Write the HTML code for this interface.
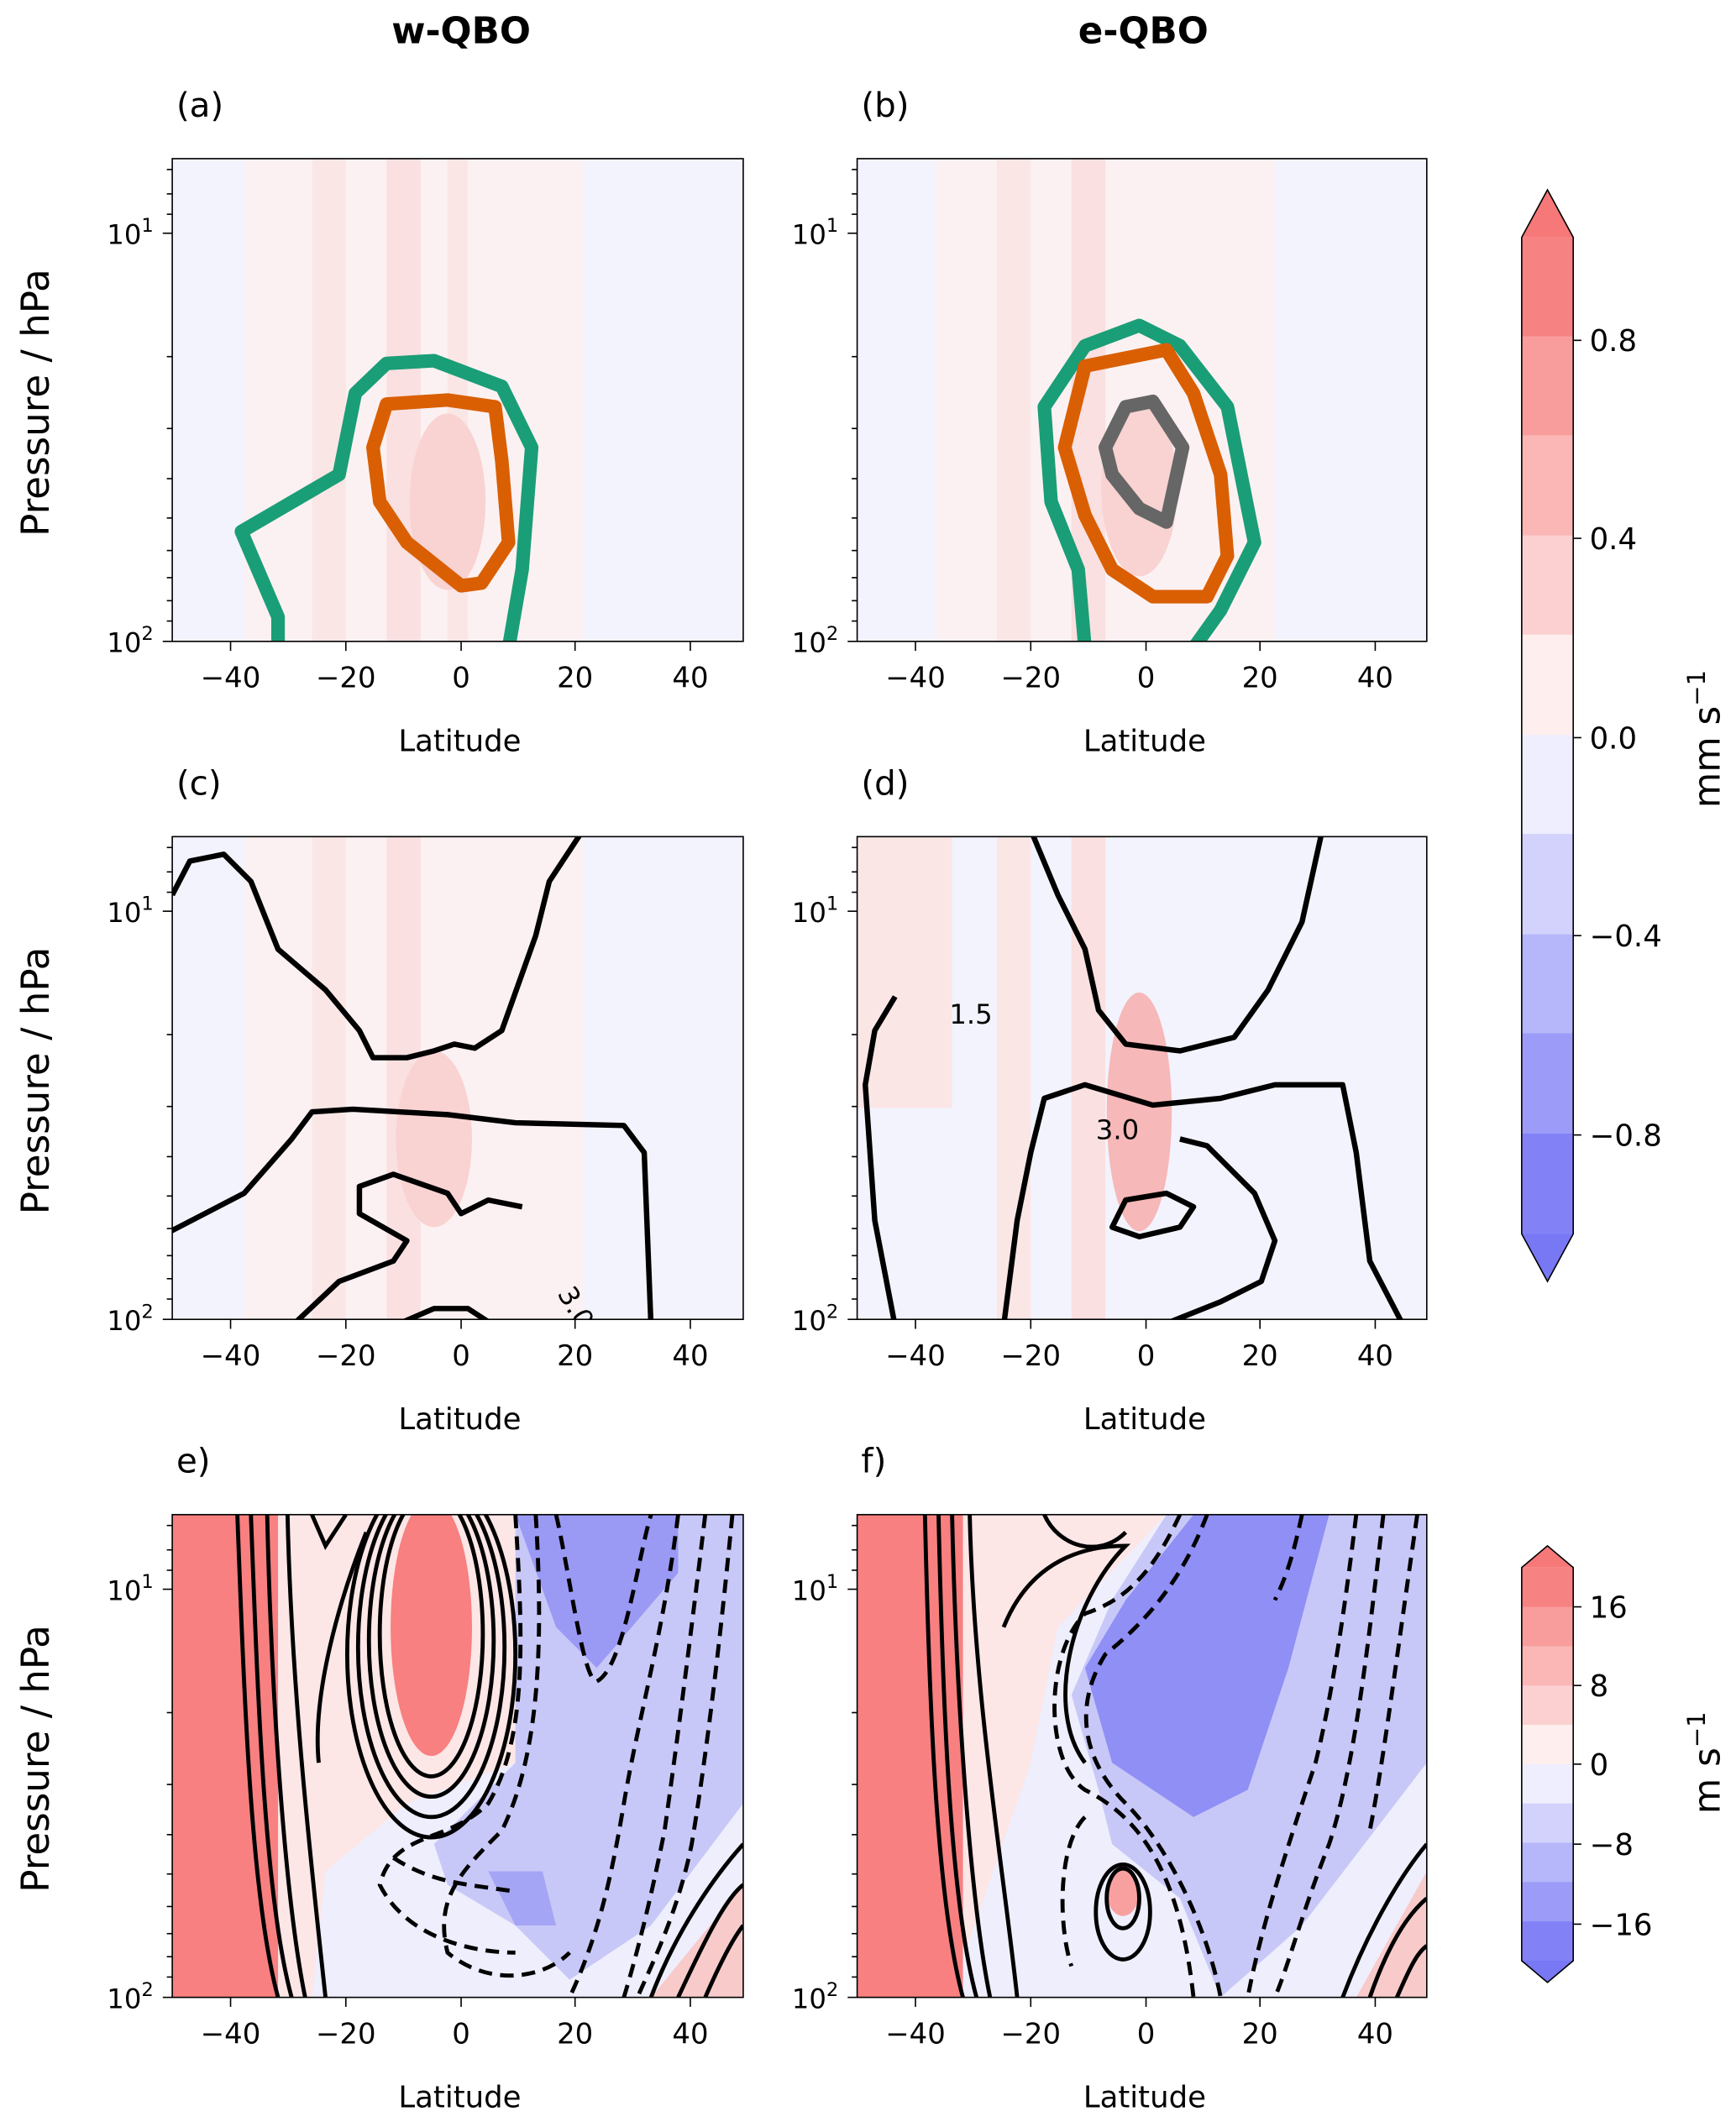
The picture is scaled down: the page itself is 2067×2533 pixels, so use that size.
<!DOCTYPE html>
<html><head><meta charset="utf-8"><style>
html,body{margin:0;padding:0;background:#fff}
svg{display:block}
text{font-family:"DejaVu Sans","Liberation Sans",sans-serif;fill:#000}
</style></head><body>
<svg width="2067" height="2533" viewBox="0 0 1280 1568.6" xmlns="http://www.w3.org/2000/svg">
<defs>
<clipPath id="ca"><rect x="127" y="117" width="421" height="356"/></clipPath>
<clipPath id="cb"><rect x="632" y="117" width="420" height="356"/></clipPath>
<clipPath id="cc"><rect x="127" y="617" width="421" height="356"/></clipPath>
<clipPath id="cd"><rect x="632" y="617" width="420" height="356"/></clipPath>
<clipPath id="ce"><rect x="127" y="1117" width="421" height="356"/></clipPath>
<clipPath id="cf"><rect x="632" y="1117" width="420" height="356"/></clipPath>
<g id="ticksL">
<g stroke="#000" stroke-width="1">
<line x1="127" y1="172" x2="120" y2="172"/><line x1="127" y1="473" x2="120" y2="473"/>
<line x1="127" y1="125" x2="123" y2="125"/><line x1="127" y1="143" x2="123" y2="143"/><line x1="127" y1="158" x2="123" y2="158"/>
<line x1="127" y1="263" x2="123" y2="263"/><line x1="127" y1="316" x2="123" y2="316"/><line x1="127" y1="353" x2="123" y2="353"/>
<line x1="127" y1="382" x2="123" y2="382"/><line x1="127" y1="406" x2="123" y2="406"/><line x1="127" y1="426" x2="123" y2="426"/>
<line x1="127" y1="443" x2="123" y2="443"/><line x1="127" y1="458" x2="123" y2="458"/>
<line x1="170" y1="473" x2="170" y2="480"/><line x1="255" y1="473" x2="255" y2="480"/><line x1="340" y1="473" x2="340" y2="480"/><line x1="424" y1="473" x2="424" y2="480"/><line x1="509" y1="473" x2="509" y2="480"/>
</g>
<text x="96" y="180" font-size="20" text-anchor="middle">10<tspan font-size="14" dy="-9">1</tspan></text>
<text x="96" y="481" font-size="20" text-anchor="middle">10<tspan font-size="14" dy="-9">2</tspan></text>
<g font-size="21" text-anchor="middle">
<text x="170" y="507">−40</text><text x="255" y="507">−20</text><text x="340" y="507">0</text><text x="424" y="507">20</text><text x="509" y="507">40</text>
</g>
<text x="339" y="554" font-size="22" text-anchor="middle">Latitude</text>
</g>
</defs>

<text x="340" y="32" font-size="27" font-weight="bold" text-anchor="middle">w-QBO</text>
<text x="843" y="32" font-size="27" font-weight="bold" text-anchor="middle">e-QBO</text>

<!-- Panel a -->
<g clip-path="url(#ca)">
<rect x="127" y="117" width="421" height="356" fill="#f3f3fd"/>
<rect x="180" y="117" width="250" height="356" fill="#fcf1f2"/>
<rect x="230" y="117" width="25" height="356" fill="#fbe6e6"/>
<rect x="285" y="117" width="25" height="356" fill="#fae0e0"/>
<rect x="330" y="117" width="15" height="356" fill="#fbe6e6"/>
<ellipse cx="330" cy="370" rx="28" ry="65" fill="#f9d2d2"/>
<path d="M205,478 L205,455 L178,392 L250,350 L262,290 L285,268 L320,266 L370,285 L392,330 L385,420 L375,478" fill="none" stroke="#1a9e77" stroke-width="10" stroke-linejoin="round"/>
<path d="M275,330 L285,298 L330,295 L365,300 L370,340 L375,400 L355,430 L340,432 L300,400 L280,370 Z" fill="none" stroke="#d95f02" stroke-width="10" stroke-linejoin="round"/>
</g>
<rect x="127" y="117" width="421" height="356" fill="none" stroke="#000" stroke-width="1"/>
<use href="#ticksL"/>
<text x="130" y="86" font-size="25">(a)</text>

<!-- Panel b -->
<g clip-path="url(#cb)">
<rect x="632" y="117" width="420" height="356" fill="#f3f3fd"/>
<rect x="690" y="117" width="250" height="356" fill="#fcf1f2"/>
<rect x="735" y="117" width="25" height="356" fill="#fbe6e6"/>
<rect x="790" y="117" width="25" height="356" fill="#fae0e0"/>
<ellipse cx="840" cy="360" rx="28" ry="65" fill="#f9d2d2"/>
<path d="M800,478 L795,420 L775,370 L770,300 L800,255 L840,240 L870,255 L905,300 L925,400 L900,450 L880,478" fill="none" stroke="#1a9e77" stroke-width="10" stroke-linejoin="round"/>
<path d="M785,330 L800,270 L860,258 L880,290 L900,350 L905,410 L890,440 L850,440 L820,420 L800,380 Z" fill="none" stroke="#d95f02" stroke-width="10" stroke-linejoin="round"/>
<path d="M815,330 L830,300 L850,296 L872,330 L860,385 L840,375 L820,350 Z" fill="none" stroke="#666" stroke-width="10" stroke-linejoin="round"/>
</g>
<rect x="632" y="117" width="420" height="356" fill="none" stroke="#000" stroke-width="1"/>
<use href="#ticksL" transform="translate(505,0)"/>
<text x="635" y="86" font-size="25">(b)</text>

<!-- Panel c -->
<g clip-path="url(#cc)">
<rect x="127" y="617" width="421" height="356" fill="#f3f3fd"/>
<rect x="180" y="617" width="250" height="356" fill="#fcf1f2"/>
<rect x="230" y="617" width="25" height="356" fill="#fbe6e6"/>
<rect x="285" y="617" width="25" height="356" fill="#fae0e0"/>
<ellipse cx="320" cy="840" rx="28" ry="65" fill="#f9d2d2"/>
<g fill="none" stroke="#000" stroke-width="4" stroke-linejoin="round">
<path d="M127,660 L140,635 L165,630 L185,650 L205,700 L240,730 L265,760 L275,780 L300,780 L320,775 L335,770 L350,773 L370,760 L395,690 L405,650 L430,612"/>
<path d="M122,910 L180,880 L215,840 L230,820 L260,818 L330,822 L380,828 L460,830 L475,850 L480,978"/>
<path d="M215,978 L250,945 L290,930 L300,915 L265,895 L265,875 L290,866 L330,880 L340,895 L360,885 L385,890"/>
<path d="M290,978 L320,965 L345,965 L365,978"/>
</g>
<text x="410" y="965" font-size="20" transform="rotate(60 420 960)">3.0</text>
</g>
<rect x="127" y="617" width="421" height="356" fill="none" stroke="#000" stroke-width="1"/>
<use href="#ticksL" transform="translate(0,500)"/>
<text x="130" y="586" font-size="25">(c)</text>

<!-- Panel d -->
<g clip-path="url(#cd)">
<rect x="632" y="617" width="420" height="356" fill="#f3f3fd"/>
<rect x="632" y="617" width="70" height="200" fill="#fbe6e6"/>
<rect x="735" y="617" width="25" height="356" fill="#fbe6e6"/>
<rect x="790" y="617" width="25" height="356" fill="#fae0e0"/>
<ellipse cx="840" cy="820" rx="24" ry="88" fill="#f6b8b8"/>
<g fill="none" stroke="#000" stroke-width="4" stroke-linejoin="round">
<path d="M760,612 L780,660 L800,700 L810,745 L830,770 L870,775 L910,765 L935,730 L960,680 L975,612"/>
<path d="M660,735 L645,760 L638,800 L645,900 L660,978"/>
<path d="M740,978 L750,900 L760,850 L770,810 L800,800 L850,815 L900,810 L940,800 L990,800 L1000,850 L1010,930 L1035,978"/>
<path d="M820,905 L830,885 L860,880 L880,890 L870,905 L840,912 Z"/>
<path d="M855,978 L900,960 L930,945 L940,915 L925,880 L890,845 L870,840"/>
</g>
<text x="700" y="755" font-size="20">1.5</text>
<text x="808" y="840" font-size="20">3.0</text>
</g>
<rect x="632" y="617" width="420" height="356" fill="none" stroke="#000" stroke-width="1"/>
<use href="#ticksL" transform="translate(505,500)"/>
<text x="635" y="586" font-size="25">(d)</text>

<!-- Panel e -->
<g clip-path="url(#ce)">
<rect x="127" y="1117" width="421" height="356" fill="#eeeefd"/>
<path d="M205,1117 L380,1117 L380,1300 L300,1330 L240,1380 L230,1473 L205,1473 Z" fill="#fde6e6"/>
<path d="M380,1117 L548,1117 L548,1330 L480,1420 L420,1460 L380,1420 L330,1390 L320,1360 L380,1300 Z" fill="#c8c8f8"/>
<path d="M380,1117 L500,1117 L500,1160 L440,1230 L410,1200 Z" fill="#9a9af5"/>
<path d="M360,1380 L400,1380 L410,1420 L380,1420 Z" fill="#a5a5f5"/>
<path d="M480,1473 L548,1390 L548,1473 Z" fill="#f8caca"/>
<rect x="127" y="1117" width="78" height="356" fill="#f88080"/>
<ellipse cx="318" cy="1200" rx="30" ry="95" fill="#f88080"/>
<g fill="none" stroke="#000" stroke-width="3">
<ellipse cx="318" cy="1205" rx="38" ry="105"/>
<ellipse cx="318" cy="1210" rx="46" ry="115"/>
<ellipse cx="318" cy="1215" rx="54" ry="125"/>
<ellipse cx="318" cy="1220" rx="62" ry="135"/>
<path d="M175,1117 C180,1250 185,1400 205,1473"/>
<path d="M185,1117 C190,1250 195,1400 215,1473"/>
<path d="M197,1117 C200,1250 210,1400 225,1473"/>
<path d="M212,1117 C215,1250 230,1380 240,1473"/>
<path d="M235,1300 C230,1250 250,1180 270,1130"/>
<path d="M230,1117 L240,1140 L255,1117"/>
<path d="M480,1473 C500,1420 530,1380 548,1360"/>
<path d="M500,1473 C520,1430 535,1400 548,1390"/>
<path d="M520,1473 C530,1450 540,1430 548,1420"/>
</g>
<g fill="none" stroke="#000" stroke-width="3" stroke-dasharray="10,6">
<path d="M380,1117 C385,1200 390,1280 360,1330 C330,1360 290,1350 280,1390 C300,1430 350,1440 380,1440"/>
<path d="M395,1117 C400,1200 400,1290 370,1350 C340,1380 320,1400 330,1440 C360,1465 400,1460 420,1440"/>
<path d="M410,1117 C420,1160 430,1240 440,1240 C460,1230 470,1150 480,1117"/>
<path d="M500,1117 C490,1200 470,1270 460,1330 C450,1390 440,1430 420,1473"/>
<path d="M520,1117 C510,1200 500,1280 490,1350 C480,1400 470,1440 460,1473"/>
<path d="M540,1117 C530,1220 520,1300 510,1360 C500,1410 480,1450 470,1473"/>
<path d="M290,1370 C320,1390 350,1390 380,1395"/>
</g>
</g>
<rect x="127" y="1117" width="421" height="356" fill="none" stroke="#000" stroke-width="1"/>
<use href="#ticksL" transform="translate(0,1000)"/>
<text x="130" y="1086" font-size="25">e)</text>

<!-- Panel f -->
<g clip-path="url(#cf)">
<rect x="632" y="1117" width="420" height="356" fill="#eeeefd"/>
<path d="M710,1117 L860,1117 L780,1200 L760,1300 L700,1473 L710,1473 Z" fill="#fde6e6"/>
<path d="M860,1117 L1052,1117 L1052,1300 L960,1420 L900,1473 L870,1400 L820,1360 L810,1320 L790,1250 L820,1180 Z" fill="#c8c8f8"/>
<path d="M880,1117 L980,1117 L950,1230 L920,1320 L880,1340 L820,1300 L800,1230 L830,1180 Z" fill="#8f8ff5"/>
<path d="M1000,1473 L1052,1380 L1052,1473 Z" fill="#f8caca"/>
<rect x="632" y="1117" width="78" height="356" fill="#f88080"/>
<ellipse cx="828" cy="1395" rx="12" ry="18" fill="#f8a0a0"/>
<g fill="none" stroke="#000" stroke-width="3">
<ellipse cx="828" cy="1400" rx="12" ry="22"/>
<ellipse cx="828" cy="1410" rx="20" ry="35"/>
<path d="M682,1117 C685,1250 690,1400 710,1473"/>
<path d="M692,1117 C695,1250 700,1400 720,1473"/>
<path d="M702,1117 C705,1250 715,1400 730,1473"/>
<path d="M715,1117 C718,1250 740,1380 750,1473"/>
<path d="M740,1200 C760,1150 800,1140 830,1140 C790,1180 770,1260 800,1300"/>
<path d="M770,1117 C780,1140 810,1150 830,1130"/>
<path d="M990,1473 C1010,1420 1035,1380 1052,1360"/>
<path d="M1010,1473 C1025,1430 1040,1410 1052,1400"/>
<path d="M1030,1473 C1040,1450 1045,1440 1052,1435"/>
</g>
<g fill="none" stroke="#000" stroke-width="3" stroke-dasharray="10,6">
<path d="M870,1117 C850,1160 830,1180 800,1190 C770,1220 770,1300 800,1320 C840,1340 870,1380 880,1473"/>
<path d="M890,1117 C870,1170 840,1200 815,1220 C790,1260 800,1300 830,1330 C860,1360 890,1420 900,1473"/>
<path d="M800,1340 C780,1360 780,1420 790,1450"/>
<path d="M1000,1117 C990,1200 980,1260 970,1300 C950,1360 930,1420 920,1473"/>
<path d="M1020,1117 C1010,1200 1000,1300 980,1360 C960,1410 950,1450 940,1473"/>
<path d="M1045,1117 C1030,1220 1020,1300 1010,1350"/>
<path d="M960,1117 C955,1140 950,1160 940,1180"/>
</g>
</g>
<rect x="632" y="1117" width="420" height="356" fill="none" stroke="#000" stroke-width="1"/>
<use href="#ticksL" transform="translate(505,1000)"/>
<text x="635" y="1086" font-size="25">f)</text>

<text font-size="28" text-anchor="middle" transform="translate(36,297) rotate(-90)">Pressure / hPa</text>
<text font-size="28" text-anchor="middle" transform="translate(36,797) rotate(-90)">Pressure / hPa</text>
<text font-size="28" text-anchor="middle" transform="translate(36,1297) rotate(-90)">Pressure / hPa</text>

<g stroke="none">
<polygon points="1122,175 1141,140 1160,175" fill="#f67878"/>
<rect x="1122" y="175" width="38" height="74" fill="#f78282"/>
<rect x="1122" y="248" width="38" height="74" fill="#f99c9c"/>
<rect x="1122" y="321" width="38" height="74" fill="#fbb6b6"/>
<rect x="1122" y="395" width="38" height="74" fill="#fcd0d0"/>
<rect x="1122" y="468" width="38" height="75" fill="#feeeee"/>
<rect x="1122" y="542" width="38" height="74" fill="#eeeefe"/>
<rect x="1122" y="615" width="38" height="74" fill="#d2d2fc"/>
<rect x="1122" y="689" width="38" height="74" fill="#b6b6fa"/>
<rect x="1122" y="762" width="38" height="74" fill="#9c9cf8"/>
<rect x="1122" y="836" width="38" height="74" fill="#8282f6"/>
<polygon points="1122,910 1141,945 1160,910" fill="#7878f5"/>
</g>
<polygon points="1122,175 1141,140 1160,175 1160,910 1141,945 1122,910" fill="none" stroke="#000" stroke-width="1"/>
<g stroke="#000"><line x1="1160" y1="251" x2="1166" y2="251"/><line x1="1160" y1="397" x2="1166" y2="397"/><line x1="1160" y1="544" x2="1166" y2="544"/><line x1="1160" y1="690" x2="1166" y2="690"/><line x1="1160" y1="837" x2="1166" y2="837"/></g>
<g font-size="22"><text x="1172" y="259">0.8</text><text x="1172" y="405">0.4</text><text x="1172" y="552">0.0</text><text x="1172" y="698">−0.4</text><text x="1172" y="845">−0.8</text></g>
<text font-size="27" text-anchor="middle" transform="translate(1268,545) rotate(-90)">mm s<tspan font-size="18" dy="-11">−1</tspan></text>

<g>
<polygon points="1122,1156 1141,1140 1160,1156" fill="#f67878"/>
<rect x="1122" y="1156" width="38" height="30" fill="#f78282"/>
<rect x="1122" y="1185" width="38" height="30" fill="#f99c9c"/>
<rect x="1122" y="1214" width="38" height="30" fill="#fbb6b6"/>
<rect x="1122" y="1243" width="38" height="30" fill="#fcd0d0"/>
<rect x="1122" y="1272" width="38" height="30" fill="#feeeee"/>
<rect x="1122" y="1301" width="38" height="30" fill="#eeeefe"/>
<rect x="1122" y="1330" width="38" height="30" fill="#d2d2fc"/>
<rect x="1122" y="1359" width="38" height="30" fill="#b6b6fa"/>
<rect x="1122" y="1388" width="38" height="30" fill="#9c9cf8"/>
<rect x="1122" y="1417" width="38" height="30" fill="#8282f6"/>
<polygon points="1122,1446 1141,1462 1160,1446" fill="#7878f5"/>
</g>
<polygon points="1122,1156 1141,1140 1160,1156 1160,1446 1141,1462 1122,1446" fill="none" stroke="#000" stroke-width="1"/>
<g stroke="#000"><line x1="1160" y1="1185" x2="1166" y2="1185"/><line x1="1160" y1="1243" x2="1166" y2="1243"/><line x1="1160" y1="1301" x2="1166" y2="1301"/><line x1="1160" y1="1360" x2="1166" y2="1360"/><line x1="1160" y1="1419" x2="1166" y2="1419"/></g>
<g font-size="22"><text x="1172" y="1193">16</text><text x="1172" y="1251">8</text><text x="1172" y="1309">0</text><text x="1172" y="1368">−8</text><text x="1172" y="1427">−16</text></g>
<text font-size="27" text-anchor="middle" transform="translate(1268,1300) rotate(-90)">m s<tspan font-size="18" dy="-11">−1</tspan></text>
</svg>
</body></html>
